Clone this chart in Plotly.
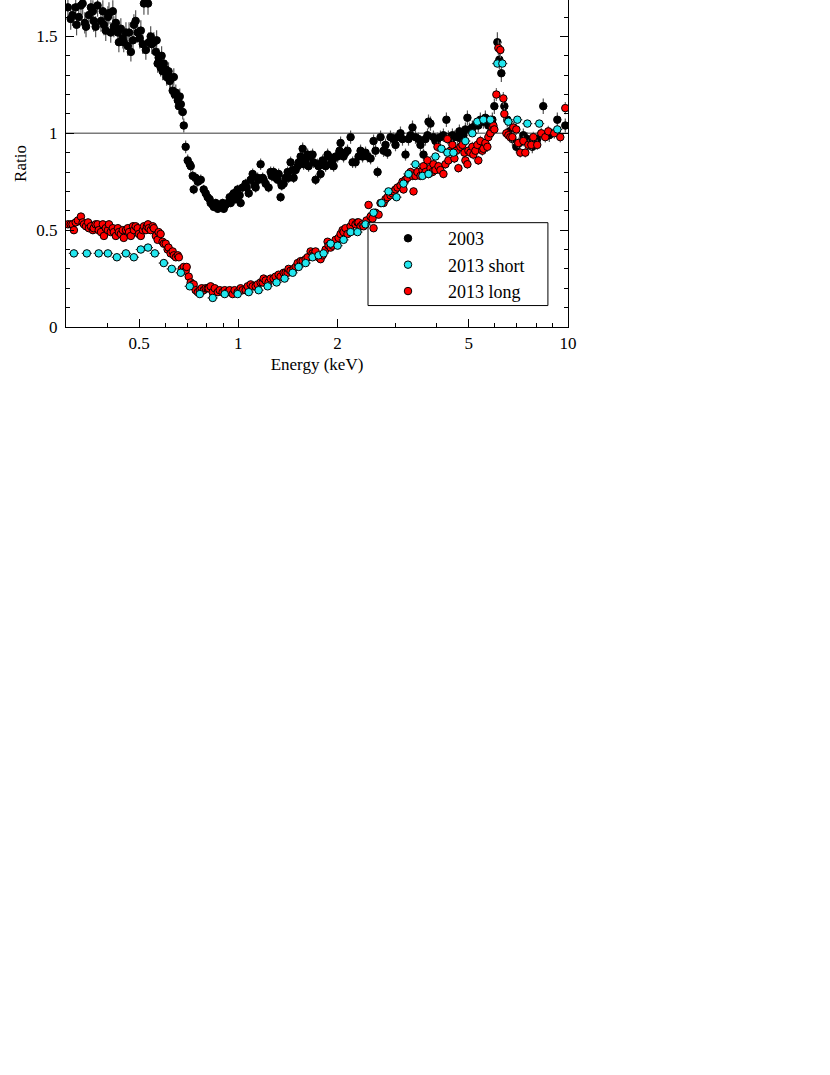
import plotly.graph_objects as go

# ---------------- data ----------------
e_2003 = [0.304,0.310,0.314,0.321,0.323,0.328,0.333,0.337,0.342,0.345,0.352,0.357,0.362,0.364,0.369,0.374,
          0.383,0.388,0.391,0.396,0.402,0.405,0.410,0.416,0.419,0.425,0.431,0.434,0.440,0.446,0.449,0.456,
          0.462,0.466,0.472,0.479,0.482,0.488,0.495,0.502,0.506,0.513,0.517,0.524,0.532,0.535,0.542,0.546,
          0.554,0.562,0.565,0.569,0.573,0.581,0.585,0.589,0.594,0.602,0.606,0.614,0.619,0.623,0.632,0.637,
          0.641,0.646,0.655,0.660,0.664,0.669,0.678,0.683,0.692,0.702,0.712,0.717,0.727,0.732,0.742,0.753,
          0.769,0.785,0.796,0.807,0.818,0.824,0.836,0.842,0.854,0.866,0.878,0.884,0.896,0.903,0.915,0.928,
          0.941,0.948,0.961,0.968,0.981,0.995,1.009,1.016,1.030,1.052,1.060,1.075,1.090,1.105,1.121,1.128,
          1.144,1.152,1.168,1.185,1.193,1.210,1.235,1.253,1.262,1.279,1.297,1.316,1.325,1.343,1.353,1.372,
          1.391,1.411,1.420,1.440,1.461,1.471,1.492,1.513,1.524,1.545,1.567,1.578,1.600,1.622,1.633,1.656,
          1.679,1.691,1.715,1.739,1.751,1.776,1.801,1.814,1.839,1.865,1.878,1.905,1.932,1.945,1.972,2.000,
          2.028,2.042,2.085,2.114,2.143,2.190,2.221,2.267,2.315,2.348,2.381,2.431,2.465,2.518,2.571,2.607,
          2.644,2.700,2.757,2.795,2.834,2.894,2.955,2.997,3.039,3.103,3.147,3.214,3.282,3.328,3.375,3.446,
          3.519,3.568,3.644,3.695,3.748,3.774,3.826,3.907,3.962,4.018,4.102,4.189,4.277,4.337,4.398,4.460,
          4.523,4.619,4.683,4.749,4.816,4.884,4.953,5.022,5.127,5.236,5.345,5.422,5.537,5.615,5.733,5.814,
          5.895,5.978,6.106,6.191,6.278,6.411,6.546,6.639,6.779,6.971,7.118,7.321,7.529,7.794,8.067,8.413,
          8.775,9.282,9.813]
r_2003 = [1.65,1.59,1.61,1.65,1.56,1.60,1.66,1.67,1.57,1.55,1.61,1.65,1.63,1.58,1.55,1.66,
          1.58,1.63,1.56,1.53,1.60,1.62,1.52,1.63,1.55,1.57,1.52,1.47,1.54,1.49,1.47,1.52,
          1.45,1.52,1.42,1.48,1.56,1.58,1.52,1.49,1.53,1.46,1.67,1.43,1.67,1.47,1.50,1.46,
          1.47,1.42,1.48,1.36,1.39,1.34,1.40,1.32,1.36,1.33,1.29,1.32,1.27,1.28,1.22,1.29,
          1.20,1.21,1.17,1.14,1.19,1.15,1.11,1.04,0.93,0.86,0.84,0.83,0.78,0.71,0.77,0.75,
          0.76,0.71,0.69,0.67,0.66,0.64,0.63,0.62,0.64,0.61,0.62,0.62,0.64,0.61,0.63,0.64,
          0.67,0.64,0.68,0.69,0.66,0.71,0.68,0.64,0.72,0.74,0.72,0.69,0.76,0.79,0.73,0.72,
          0.77,0.76,0.84,0.77,0.76,0.74,0.72,0.80,0.78,0.80,0.77,0.76,0.79,0.67,0.73,0.74,
          0.77,0.80,0.77,0.85,0.81,0.77,0.81,0.83,0.85,0.88,0.92,0.84,0.86,0.89,0.83,0.88,
          0.89,0.85,0.76,0.84,0.83,0.79,0.86,0.85,0.83,0.89,0.88,0.84,0.86,0.83,0.88,0.88,
          0.91,0.95,0.88,0.90,0.91,0.98,0.85,0.85,0.88,0.91,0.88,0.90,0.88,0.87,0.96,0.91,
          0.80,0.98,0.91,0.94,0.90,0.98,0.97,0.94,0.98,1.00,0.97,0.89,0.97,0.99,1.03,0.98,
          0.97,0.94,0.89,0.97,0.99,1.06,1.05,0.98,0.96,0.97,0.98,0.99,1.07,0.98,0.97,0.99,
          0.98,0.98,1.01,0.97,0.99,1.02,1.08,1.02,1.03,1.04,1.04,1.07,1.06,1.08,1.04,1.00,
          1.07,1.14,1.47,1.38,1.31,1.14,1.07,1.01,0.97,0.93,0.95,0.99,0.97,0.93,0.97,1.14,
          0.99,1.07,1.04]

e_2013s = [0.317,0.347,0.377,0.402,0.428,0.456,0.482,0.506,0.532,0.558,0.594,0.628,0.669,0.712,0.764,0.836,
           0.909,0.995,1.075,1.152,1.227,1.306,1.381,1.461,1.524,1.600,1.679,1.751,1.814,1.905,2.000,2.085,
           2.190,2.299,2.431,2.571,2.719,2.854,3.018,3.169,3.282,3.446,3.618,3.774,3.962,4.131,4.307,4.491,
           4.884,5.127,5.309,5.537,5.814,6.106,6.322,6.592,7.020,7.529,8.183,9.282]
r_2013s = [0.38,0.38,0.38,0.38,0.36,0.38,0.36,0.40,0.41,0.38,0.33,0.30,0.28,0.21,0.17,0.15,
           0.17,0.17,0.18,0.19,0.21,0.23,0.25,0.28,0.31,0.33,0.36,0.37,0.38,0.43,0.42,0.45,
           0.49,0.49,0.53,0.59,0.64,0.70,0.67,0.74,0.79,0.84,0.78,0.79,0.88,0.92,0.90,0.90,
           0.96,1.00,1.06,1.07,1.07,1.36,1.36,1.06,1.07,1.05,1.05,1.02]

e_2013l = [0.304,0.310,0.314,0.317,0.321,0.326,0.333,0.337,0.340,0.345,0.350,0.352,0.357,0.362,0.364,0.369,
           0.374,0.377,0.383,0.388,0.391,0.396,0.402,0.405,0.410,0.416,0.419,0.425,0.431,0.434,0.440,0.446,
           0.449,0.456,0.462,0.466,0.472,0.479,0.482,0.488,0.495,0.499,0.506,0.513,0.517,0.524,0.528,0.532,
           0.535,0.542,0.550,0.554,0.562,0.569,0.573,0.581,0.589,0.594,0.602,0.610,0.614,0.623,0.632,0.637,
           0.646,0.655,0.660,0.673,0.683,0.692,0.697,0.707,0.717,0.727,0.732,0.742,0.753,0.764,0.774,0.785,
           0.796,0.807,0.813,0.824,0.836,0.848,0.866,0.878,0.896,0.909,0.928,0.941,0.961,0.974,0.995,1.016,
           1.030,1.052,1.067,1.090,1.105,1.128,1.144,1.168,1.185,1.193,1.210,1.235,1.253,1.279,1.297,1.325,
           1.343,1.372,1.391,1.411,1.420,1.440,1.471,1.492,1.513,1.545,1.567,1.600,1.622,1.656,1.679,1.691,
           1.715,1.751,1.776,1.801,1.839,1.865,1.878,1.905,1.932,1.972,2.014,2.042,2.071,2.085,2.114,2.143,
           2.190,2.221,2.267,2.299,2.315,2.348,2.381,2.398,2.448,2.483,2.518,2.553,2.571,2.607,2.663,2.700,
           2.757,2.795,2.834,2.894,2.935,2.955,2.997,3.039,3.103,3.147,3.169,3.214,3.259,3.328,3.375,3.399,
           3.446,3.494,3.568,3.618,3.644,3.695,3.748,3.774,3.826,3.880,3.907,3.962,4.018,4.046,4.102,4.189,
           4.248,4.307,4.337,4.398,4.460,4.523,4.587,4.651,4.716,4.783,4.850,4.884,4.953,4.988,5.057,5.127,
           5.163,5.236,5.309,5.345,5.422,5.498,5.537,5.615,5.693,5.733,5.814,5.895,5.937,5.978,6.063,6.148,
           6.234,6.366,6.411,6.501,6.592,6.685,6.779,6.826,6.971,7.069,7.168,7.321,7.422,7.580,7.740,7.849,
           8.067,8.298,8.533,8.715,9.088,9.477,9.813]
r_2013l = [0.53,0.53,0.53,0.50,0.54,0.55,0.57,0.54,0.53,0.52,0.54,0.51,0.52,0.50,0.51,0.53,
           0.53,0.50,0.49,0.53,0.47,0.51,0.50,0.53,0.49,0.51,0.49,0.47,0.51,0.49,0.48,0.50,
           0.46,0.50,0.51,0.49,0.47,0.52,0.50,0.52,0.51,0.48,0.47,0.50,0.52,0.50,0.52,0.53,
           0.51,0.50,0.52,0.51,0.47,0.45,0.49,0.48,0.44,0.43,0.43,0.40,0.41,0.38,0.39,0.37,
           0.36,0.37,0.36,0.30,0.31,0.29,0.31,0.26,0.23,0.22,0.22,0.19,0.18,0.19,0.20,0.19,
           0.20,0.20,0.20,0.21,0.18,0.20,0.18,0.19,0.18,0.19,0.18,0.19,0.17,0.19,0.18,0.20,
           0.19,0.19,0.21,0.22,0.21,0.21,0.22,0.23,0.23,0.25,0.24,0.23,0.25,0.25,0.26,0.27,
           0.26,0.28,0.28,0.28,0.30,0.29,0.30,0.31,0.33,0.34,0.34,0.35,0.36,0.39,0.38,0.37,
           0.39,0.36,0.35,0.37,0.40,0.44,0.42,0.41,0.42,0.45,0.46,0.48,0.50,0.49,0.51,0.48,
           0.52,0.54,0.53,0.54,0.54,0.52,0.53,0.52,0.55,0.63,0.57,0.56,0.51,0.59,0.58,0.64,
           0.64,0.66,0.67,0.68,0.69,0.70,0.71,0.72,0.73,0.75,0.71,0.76,0.77,0.80,0.78,0.70,
           0.78,0.80,0.78,0.81,0.83,0.80,0.86,0.79,0.82,0.80,0.84,0.81,0.93,0.83,0.81,0.79,
           0.84,0.97,0.86,0.91,0.94,0.87,0.91,0.82,0.93,0.94,0.90,0.86,0.84,0.91,0.90,0.93,
           0.89,0.91,0.94,0.86,0.96,0.91,0.92,0.95,0.93,0.98,1.00,1.03,1.04,1.02,1.20,1.44,
           1.43,1.18,1.10,1.00,0.99,0.98,0.98,1.03,1.02,0.95,0.90,0.96,0.90,0.94,0.94,0.98,
           0.94,1.00,0.98,1.01,1.00,0.98,1.13]

names = ["2003", "2013 short", "2013 long"]
tick_vals = [0.5, 1, 2, 5, 10]
tick_text = ["0.5", "1", "2", "5", "10"]
minor_vals = [0.3, 0.4, 0.6, 0.7, 0.8, 0.9, 3, 4, 6, 7, 8, 9]

FONT = "Liberation Serif, Times New Roman, serif"

fig = go.Figure()

def add(e, r, name, fill, errcol, xerr_pct, yerr_pct, rank):
    fig.add_trace(go.Scatter(
        x=e, y=r, mode="markers", name=name, legendrank=rank,
        marker=dict(size=7.5, color=fill, line=dict(color="black", width=1)),
        error_y=dict(type="percent", value=yerr_pct, color=errcol, thickness=1.2, width=0),
        error_x=dict(type="percent", value=xerr_pct, color=errcol, thickness=1.2, width=0),
    ))

add(e_2003, r_2003, names[0], "black", "#555555", 1.2, 3.5, 1)
add(e_2013l, r_2013l, names[2], "#ff0000", "#6e6e6e", 0.8, 2.8, 3)
add(e_2013s, r_2013s, names[1], "#22e6ee", "#333333", 3.5, 1.2, 2)

# reference line at ratio = 1
fig.add_shape(type="line", xref="paper", x0=0, x1=1, yref="y", y0=1, y1=1,
              line=dict(color="#7a7a7a", width=1.5), layer="below")
# legend frame
fig.add_shape(type="rect", xref="paper", yref="paper",
              x0=0.6016, x1=0.960, y0=0.0656, y1=0.319,
              line=dict(color="black", width=1), fillcolor="rgba(0,0,0,0)", layer="above")

fig.update_layout(
    width=830, height=1075,
    margin=dict(l=66, r=262, t=0, b=748, pad=0),
    paper_bgcolor="white", plot_bgcolor="white",
    font=dict(family=FONT, size=17, color="black"),
    showlegend=True,
    legend=dict(x=0.6016, y=0.327, xanchor="left", yanchor="top",
                bgcolor="rgba(0,0,0,0)", borderwidth=0,
                font=dict(family=FONT, size=18, color="black"),
                itemwidth=70, tracegroupgap=0),
    xaxis=dict(type="log", range=[-0.5229, 1.0],
               tickmode="array", tickvals=tick_vals, ticktext=tick_text,
               ticks="inside", ticklen=8, tickwidth=1, tickcolor="black",
               showline=True, linecolor="black", linewidth=1.2, mirror=False,
               showgrid=False, zeroline=False,
               minor=dict(tickmode="array", tickvals=minor_vals, ticks="inside",
                          ticklen=4, tickwidth=1, tickcolor="black", showgrid=False),
               title=dict(text="Energy (keV)", font=dict(family=FONT, size=17), standoff=6),
               tickfont=dict(family=FONT, size=17)),
    yaxis=dict(range=[0, 1.688], tickmode="linear", tick0=0, dtick=0.5,
               ticks="inside", ticklen=8, tickwidth=1, tickcolor="black",
               showline=True, linecolor="black", linewidth=1.2, mirror="ticks",
               showgrid=False, zeroline=False,
               minor=dict(dtick=0.1, ticks="inside", ticklen=4, tickwidth=1,
                          tickcolor="black", showgrid=False),
               title=dict(text="Ratio", font=dict(family=FONT, size=17), standoff=5),
               tickfont=dict(family=FONT, size=17), ticklabelstandoff=4),
)

fig.write_html("out.html", config={"displayModeBar": False},
               post_script="document.body.style.margin='0';document.body.style.padding='0';")
